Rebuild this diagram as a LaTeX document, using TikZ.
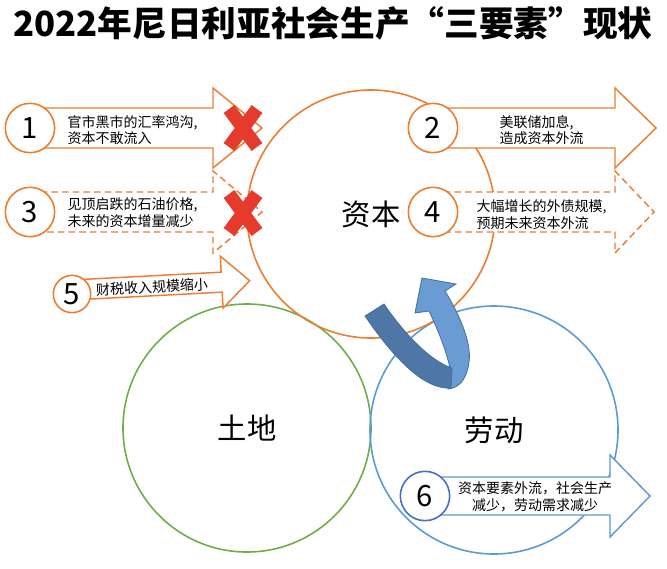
\documentclass[tikz,border=0pt]{standalone}
\usepackage{fontspec}
\setmainfont{Noto Sans CJK SC}
\usepackage{xcolor}
\usetikzlibrary{positioning}

\definecolor{capital}{HTML}{ED7D31}
\definecolor{land}{HTML}{70AD47}
\definecolor{labor}{HTML}{5B9BD5}
\definecolor{laborDark}{HTML}{4472C4}
\definecolor{crossred}{HTML}{E63A2C}
\definecolor{turnLight}{HTML}{6A9BD3}
\definecolor{turnDark}{HTML}{4E76A6}
\definecolor{turnLine}{HTML}{41719C}

% block arrow: [style]{left x}{head base x}{tip x}{centre y}{half body}{half head}
\newcommand{\blockarrow}[7][]{%
  \draw[#1] (#2,#5-#6) -- (#3,#5-#6) -- (#3,#5-#7) -- (#4,#5)
    -- (#3,#5+#7) -- (#3,#5+#6) -- (#2,#5+#6) -- cycle;}

\begin{document}
\begin{tikzpicture}[x=0.75pt,y=-0.75pt,
    factor/.style={circle, draw, line width=1.2pt, minimum size=186pt,
      font=\fontsize{22}{26}\selectfont},
    numcirc/.style={circle, draw, fill=white, line width=1.2pt,
      minimum size=37pt, inner sep=0pt, font=\fontsize{22}{22}\selectfont},
    note/.style={align=left, font=\fontsize{10.5}{12.5}\selectfont, inner sep=1pt},
    arrowbox/.style={draw=capital, fill=white, line width=1.1pt, line join=miter},
    dasharrow/.style={arrowbox, dash pattern=on 5pt off 3pt},
    cross/.style={draw=crossred, line width=10pt},
  ]
  \useasboundingbox (0,0) rectangle (667,568);

  \node[font=\bfseries\fontsize{26}{30}\selectfont] (title) at (333,23)
    {2022年尼日利亚社会生产“三要素”现状};

  % the three factors
  \node[factor, draw=land] (land) at (247,428) {土地};
  \node[factor, draw=labor] (labor) at (494,430) {劳动};
  \node[factor, draw=capital] (capital) at (371,214) {资本};

  % arrows on capital
  \blockarrow[arrowbox]{30}{213}{262}{128}{20}{40}
  \blockarrow[dasharrow]{30}{213}{262}{212}{20}{41}
  \blockarrow[arrowbox]{433}{615}{656}{128}{20}{40}
  \blockarrow[dasharrow]{433}{615}{654}{212}{20}{41}
  \begin{scope}[rotate around={3:(72,292)}]
    \blockarrow[arrowbox]{72}{222}{250}{290}{10}{26}
  \end{scope}
  \blockarrow[arrowbox, draw=labor]{425}{610}{650}{496}{19}{41}

  \node[numcirc, draw=capital] (n1) at (30,128) {1};
  \node[numcirc, draw=capital] (n2) at (433,128) {2};
  \node[numcirc, draw=capital] (n3) at (30,212) {3};
  \node[numcirc, draw=capital] (n4) at (433,212) {4};
  \node[numcirc, draw=capital, minimum size=28pt] (n5) at (72,294) {5};
  \node[numcirc, draw=laborDark] (n6) at (425,496) {6};

  \node[note, anchor=west] (t1) at (66,130) {官市黑市的汇率鸿沟,\\资本不敢流入};
  \node[note, anchor=west] (t2) at (498,130) {美联储加息,\\造成资本外流};
  \node[note, anchor=west] (t3) at (66,213) {见顶启跌的石油价格,\\未来的资本增量减少};
  \node[note, anchor=west] (t4) at (475,215) {大幅增长的外债规模,\\预期未来资本外流};
  \node[note, rotate=3] (t5) at (152,287) {财税收入规模缩小};
  \node[note, align=center] (t6) at (535,497) {资本要素外流，社会生产\\减少，劳动需求减少};

  % crossed out
  \draw[cross] (229,109) -- (257,147) (257,109) -- (229,147);
  \draw[cross] (229,194) -- (257,232) (257,194) -- (229,232);

  % capital turning into labour
  \filldraw[fill=turnLight, draw=turnLine, line width=0.6pt]
    (450,368) .. controls (446,350) and (438,330) .. (429,311) -- (415,313)
    -- (422,278) -- (456,284) -- (445,291)
    .. controls (458,312) and (472,342) .. (469,362)
    .. controls (467,378) and (460,388) .. (448,389) -- cycle;
  \filldraw[fill=turnDark, draw=turnLine, line width=0.6pt]
    (365,316) -- (384,304) .. controls (405,335) and (432,362) .. (452,368)
    -- (451,388) .. controls (425,390) and (395,360) .. cycle;
\end{tikzpicture}
\end{document}
